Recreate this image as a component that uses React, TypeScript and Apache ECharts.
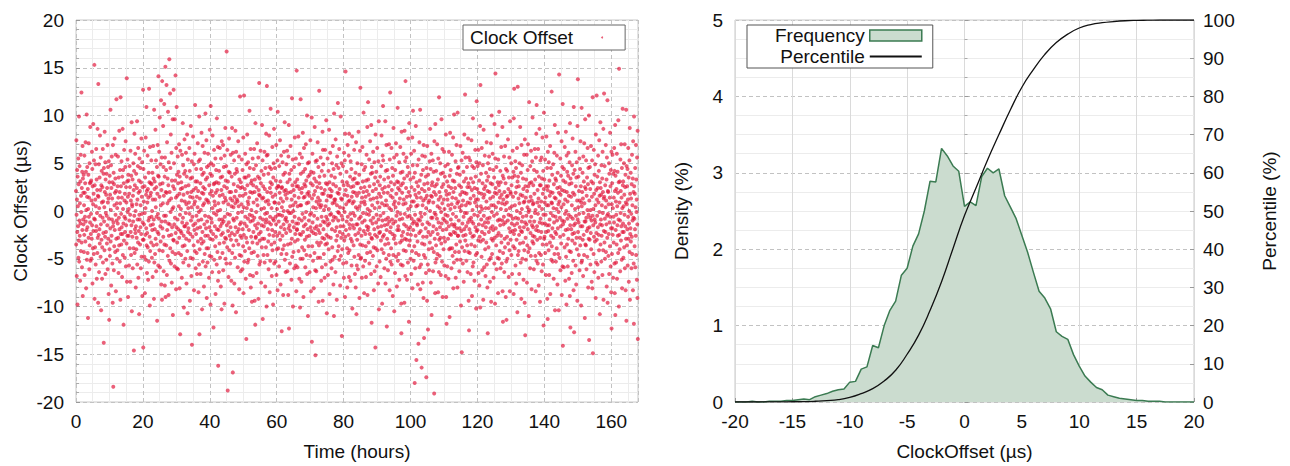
import React, { useEffect, useRef } from 'react';
import * as echarts from 'echarts';

// Clock offset samples (µs), recorded at a regular interval over the measurement span.
const SPAN_HOURS = 168;
const clockOffsetUs: number[] = [
2.1,-3.5,7.4,-0.4,-6.8,1.2,4.3,-2.2,-9.8,3.6,0.5,-1.6,5.5,-4.9,2.8,-3.1,9.9,-5.3,-1.0,4.7,
-2.6,0.8,-7.3,3.1,-1.3,5.9,-4.2,1.6,-0.1,12.4,-3.3,2.4,-5.9,4.1,-2.0,6.8,-8.9,3.4,-0.9,1.9,
-1.4,3.8,-4.3,0.6,-2.5,5.8,-6.7,1.9,-0.6,2.9,-3.2,7.2,-1.1,4.1,-8.1,0.1,-2.0,10.1,-5.1,1.5,
4.6,-1.7,-4.4,2.3,-11.2,0.2,3.8,-2.8,7.1,-0.6,1.4,-6.1,5.0,-3.6,2.9,-1.2,8.8,-5.2,3.0,-2.4,
-0.3,3.2,-5.0,1.1,-2.9,6.2,-1.5,4.4,-7.6,2.6,-3.9,0.7,9.1,-2.1,1.8,-4.5,5.3,-0.8,15.3,-9.2,
2.7,-0.9,-3.8,1.2,4.9,-5.6,0.5,-2.1,6.5,-1.6,3.3,-7.1,-0.2,2.2,-4.4,8.6,-2.8,1.6,-9.6,13.3,
1.5,-2.5,4.9,-6.4,0.3,-1.9,3.5,-3.4,7.9,-0.5,2.2,-4.8,5.6,-1.4,-10.4,2.7,-3.0,4.2,0.9,-7.1,
-3.8,2.5,-0.7,6.5,-5.4,1.0,-2.3,3.9,-13.8,4.5,-1.1,0.4,-4.1,8.3,2.0,-2.7,5.1,-6.6,3.3,-0.2,
-2.2,1.7,-5.1,3.9,-0.5,-3.4,2.4,-1.5,6.9,-6.1,0.9,4.6,-2.9,1.3,-8.7,5.2,-0.8,-11.4,3.0,-4.0,
3.7,-4.7,1.7,-1.8,10.6,-3.2,0.1,4.8,-7.8,2.4,-2.6,5.7,-0.9,1.3,-5.5,3.0,-9.6,6.9,-1.6,-18.4,
-1.2,4.0,-6.2,2.8,-3.7,0.6,7.6,-2.0,1.9,-4.3,3.4,-0.4,5.9,-8.4,2.1,-2.9,11.7,-1.0,0.8,-5.0,
0.3,-4.1,2.6,-1.3,5.7,-2.8,1.4,-6.5,3.5,-0.7,-3.6,8.4,-1.9,2.0,-5.3,4.3,0.8,-9.3,11.9,-2.4,
2.6,-0.3,-3.5,5.2,-1.7,1.4,-6.9,3.6,-2.4,8.6,-4.6,0.2,4.3,-1.3,-11.9,2.9,-3.1,6.4,-0.6,1.1,
-4.9,1.8,-2.2,4.6,-0.8,7.3,-5.8,2.5,-1.5,0.9,-3.4,13.9,-7.4,3.1,-2.6,5.4,-0.1,1.5,-9.0,3.8,
3.2,-2.6,0.2,-5.7,1.8,-1.0,4.7,-3.9,2.5,-0.4,-7.4,6.3,-2.2,1.1,-4.6,3.7,-1.5,9.3,-10.5,0.7,
0.5,-2.7,3.3,-6.0,1.6,-1.1,5.0,-3.9,2.2,-14.6,4.2,-0.5,8.1,-4.4,2.7,-1.9,6.0,-2.3,0.0,-8.0,
-1.6,3.9,-4.0,0.7,-2.8,2.4,9.4,-5.6,1.2,-0.9,4.7,-3.3,6.6,-7.0,1.9,-2.1,3.2,-10.8,-0.4,5.5,
-0.9,2.1,-3.5,4.5,-1.7,0.6,-6.0,3.0,-2.4,7.6,-4.8,1.5,-0.3,5.1,-8.9,2.5,-1.2,-3.0,12.7,-14.3,
4.4,-3.0,1.0,-1.4,6.3,-4.8,2.6,-0.2,-8.6,3.5,-2.5,0.3,7.7,-5.1,1.7,-1.8,10.9,-3.6,2.1,-6.5,
-2.3,0.9,5.8,-3.8,2.3,-7.2,1.4,-1.0,4.0,-5.3,12.8,-0.7,3.0,-2.7,-9.9,6.7,-4.2,1.6,-1.5,2.9,
1.9,-3.3,5.3,-0.6,2.8,-4.9,0.0,-2.0,4.0,-6.9,1.2,-1.4,6.8,-3.6,3.4,-0.9,-9.2,10.6,-5.4,2.3,
3.1,-1.9,-4.5,1.2,8.5,-2.9,0.4,5.3,-6.3,2.5,-0.6,-3.5,4.6,-11.5,1.8,-2.2,6.9,-0.3,3.7,-5.7,
14.1,-2.4,3.6,-0.8,6.2,-4.1,1.5,9.8,-5.9,2.8,-1.6,4.9,-3.2,0.6,11.6,-7.7,2.2,-1.1,5.6,-9.3,
13.6,-1.8,2.9,-4.2,0.8,8.9,-2.7,4.6,-6.3,1.6,-0.5,11.2,-3.5,3.6,-7.8,5.6,-1.1,15.1,-9.0,2.0,
-0.5,4.3,-3.6,13.2,1.9,-6.7,7.2,-2.0,0.8,3.4,-4.7,10.4,-1.3,2.7,-8.8,5.1,-2.6,1.1,15.9,-5.2,
2.0,-1.4,12.3,-3.9,4.5,-0.1,8.0,-5.5,1.3,-2.5,6.1,-7.5,3.2,-1.7,0.2,-4.3,9.6,-10.9,2.6,-3.0,
0.4,12.7,-3.1,5.0,-1.4,2.3,-5.8,9.6,-0.7,3.2,-4.5,14.2,-2.3,1.4,-8.2,6.6,-1.7,10.9,-6.0,3.8,
-3.3,1.6,-0.9,5.7,-6.1,2.9,-1.9,4.1,-4.4,0.5,7.0,-2.8,1.8,-8.1,3.6,-0.4,-12.9,6.3,-2.1,2.3,
0.2,-4.6,3.0,-2.3,1.1,-7.0,5.9,-1.2,2.4,-3.7,9.2,-0.7,4.8,-5.4,1.7,-2.6,-10.1,3.9,-1.6,7.5,
-3.6,1.0,-1.6,4.2,-5.0,2.6,-0.2,6.1,-2.9,0.7,-7.6,3.6,-1.3,8.0,-4.2,1.9,-10.7,5.4,-2.2,0.3,
-1.8,2.7,-5.7,0.9,-3.1,6.6,-0.3,4.2,-9.4,1.5,-2.4,3.4,-4.9,8.9,-1.0,2.0,-6.8,0.4,5.2,-14.0,
3.5,-0.6,-2.7,1.4,-5.0,7.8,-1.5,2.2,-3.6,4.9,-8.3,0.7,-2.0,6.0,-4.2,1.0,11.1,-1.3,3.1,-6.0,
2.4,-2.4,4.4,-0.5,-4.4,1.5,-6.6,3.1,-1.8,0.4,7.1,-3.2,2.1,-1.0,-8.5,5.2,-0.1,-5.6,9.9,-12.9,
-4.0,1.3,5.4,-1.7,2.9,-6.6,0.1,-2.9,4.4,-0.9,8.2,-3.4,1.9,-10.3,3.8,-2.2,6.8,-5.3,0.6,2.5,
1.8,-3.2,4.0,-7.9,0.8,-1.4,6.1,-4.5,2.3,-0.5,-2.6,10.2,-5.8,3.3,-1.8,1.2,7.4,-3.9,-9.1,4.6,
-1.1,3.5,-5.4,1.1,-2.6,6.0,-3.9,0.9,-0.6,4.8,-7.0,2.7,-1.7,-4.7,8.5,1.8,-2.9,3.9,-9.8,11.0,
-2.1,5.0,-0.8,-4.8,2.1,-1.2,3.7,-6.4,0.3,7.9,-3.0,1.6,-2.4,4.8,-12.2,2.8,-0.2,6.4,-5.1,1.0,
2.9,-1.6,0.6,-3.7,5.5,-8.7,1.9,-2.7,4.3,-0.4,3.0,-5.6,9.7,-1.9,2.2,-4.3,0.0,6.7,-7.3,-16.2,
0.8,-2.0,2.9,-6.4,4.2,-0.9,-3.4,1.6,6.6,-4.9,0.1,-1.6,3.5,-7.9,5.5,-2.5,2.2,-10.3,7.3,-1.3,
-0.9,3.6,-4.4,1.7,-2.3,6.9,-6.2,0.9,-1.1,4.6,-3.3,2.6,-9.7,5.8,-0.6,1.4,-2.8,8.7,-5.0,3.2,
1.1,-2.9,4.7,-5.5,16.7,-1.5,2.4,-3.8,6.4,-0.3,-18.8,3.1,-2.1,0.7,-6.9,4.1,-1.2,7.6,-4.1,2.0,
-2.6,4.0,-0.4,-5.5,1.3,-1.7,5.9,-3.0,2.0,-7.3,0.5,3.6,-2.3,8.7,-4.4,1.1,-9.9,-16.9,6.1,-0.8,
-3.6,0.4,2.8,-1.0,5.3,-7.6,1.5,-2.5,3.9,-4.9,0.8,8.4,-1.7,2.1,-10.6,6.2,-3.1,4.4,-0.7,1.2,
4.1,-2.2,1.0,-5.9,2.6,-0.2,7.3,-3.5,0.5,-1.9,5.7,-8.2,3.3,-4.6,1.6,-1.4,12.0,-2.6,2.4,-6.3,
3.0,-1.2,-4.7,0.7,-2.8,5.4,-0.1,2.5,-6.1,4.3,-1.9,1.6,-3.7,7.7,-8.6,0.4,-2.5,12.1,-5.3,3.5,
-1.3,2.3,-4.2,6.0,-0.6,1.8,-7.1,3.5,-2.8,-13.4,4.9,-1.6,0.3,-3.3,8.0,2.7,-5.4,1.0,-0.8,5.1,
0.7,-5.1,3.7,-2.0,1.4,-3.9,10.5,-0.4,4.5,-6.7,2.0,-1.1,6.5,-8.0,2.9,-2.7,0.1,-4.4,3.2,-9.5,
-0.5,1.9,-3.3,5.5,-1.0,-6.8,2.7,-2.2,0.9,4.4,-4.3,6.5,-0.7,2.0,-9.4,3.3,-1.5,-11.9,9.2,-2.8,
-2.7,4.8,-0.1,2.5,-6.5,1.2,-1.8,7.1,-3.4,0.6,-4.7,3.6,-1.3,5.6,-9.2,2.2,-2.4,1.7,13.4,-5.6,
3.4,-3.1,1.6,-0.7,-5.3,6.3,-2.2,2.9,-7.5,0.2,4.2,-1.5,-3.8,9.0,1.3,-2.9,5.3,-11.3,-0.9,2.6,
1.4,-4.6,3.8,-1.6,0.3,-2.9,6.2,-5.4,2.3,-0.3,-7.9,4.5,-1.2,1.0,-3.8,8.1,-0.9,-10.0,5.8,13.1,
-0.2,2.0,-4.6,5.9,-1.9,1.1,-3.2,3.9,-6.1,0.7,-1.2,7.9,-2.5,4.6,-8.5,2.4,-0.6,-5.2,3.0,10.7,
1.9,-1.4,4.4,-3.5,0.3,-6.8,2.8,-2.0,6.7,-4.1,1.5,-0.8,-9.8,3.5,-2.6,5.0,-1.0,8.6,-5.5,0.9,
-3.3,0.9,4.5,-2.2,1.7,-5.3,-0.6,3.2,-1.4,6.9,-6.7,2.4,-4.0,0.2,-2.6,5.3,-8.3,10.4,-0.4,2.6,
-3.9,2.6,-1.1,0.8,-5.8,4.7,-2.3,1.9,-0.4,7.4,-3.0,3.1,-7.7,1.3,-1.7,5.8,-4.5,2.4,-12.6,0.4,
2.5,-0.5,-2.6,5.1,-4.0,1.0,-8.8,3.8,-1.4,0.0,6.2,-3.6,2.1,-1.9,9.3,-5.1,4.0,-0.9,1.7,-6.4,
2.2,-0.7,-2.3,4.9,-4.5,1.3,-1.1,6.3,-6.3,3.0,0.0,-3.5,1.9,-8.8,5.7,-1.8,9.0,-12.3,-0.2,3.9,
-1.5,3.3,-5.5,0.5,-2.1,6.8,-3.4,2.0,-0.2,4.3,-7.2,1.2,-2.9,11.8,-4.8,2.7,-1.1,5.4,-10.0,0.6,
0.0,-4.3,2.2,-1.7,4.6,-6.0,1.6,-0.6,7.7,-3.2,3.0,-2.4,0.9,-5.7,5.5,-1.3,-8.4,2.6,14.7,-2.0,
-1.9,3.3,-5.9,0.5,-3.0,2.6,-1.3,7.8,-4.2,1.4,-0.8,4.9,-7.1,2.3,-2.4,6.0,-10.1,0.6,-5.0,11.7,
3.9,-2.5,0.6,-7.4,1.9,-1.0,5.6,-3.8,2.4,-0.3,-5.0,8.2,-2.2,4.1,-9.0,1.4,-1.6,6.6,-4.1,2.8,
-0.7,1.5,-3.0,4.4,-5.9,2.6,-1.4,7.0,-0.1,3.2,-4.6,0.8,-2.7,10.0,-6.6,1.8,-1.9,5.0,-11.0,3.6,
0.9,-3.7,2.0,-1.0,5.1,-2.6,1.6,-6.4,3.8,-0.4,-4.7,7.4,-1.7,2.9,-8.4,4.1,-0.2,-2.1,9.8,-13.7,
1.3,-3.7,6.0,-1.2,2.7,-5.2,0.4,-2.3,4.0,-8.1,1.7,-0.5,3.4,-4.4,8.8,-1.8,2.1,-6.2,-15.1,5.2,
-2.4,0.3,3.1,-6.3,1.0,-1.6,5.3,-3.3,2.5,-0.8,7.2,-4.9,1.4,-2.0,4.6,-9.5,0.7,-3.6,12.6,2.9,
3.6,-2.3,1.1,-4.9,0.4,-1.5,5.6,-3.3,2.4,-7.3,0.6,-0.6,4.2,-5.9,1.8,-2.8,8.3,-9.4,6.4,-1.1,
4.9,-1.9,1.8,-4.5,0.1,-2.9,3.7,-7.0,2.2,-1.2,6.4,-3.5,0.5,-5.6,2.9,-0.6,9.5,-2.5,1.1,-10.7,
-3.4,2.8,-0.9,5.5,-1.5,-6.7,1.6,-2.7,4.2,-4.0,0.2,8.5,-1.3,3.0,-8.7,2.3,-0.4,6.1,-5.3,1.5,
-2.8,1.6,-0.3,3.7,-6.0,2.1,-1.9,5.0,-3.8,0.8,-5.1,6.8,-1.0,2.8,-7.7,4.4,-0.6,-11.0,10.2,1.2,
0.9,-4.8,3.5,-2.1,1.2,-6.4,7.5,-0.7,2.6,-3.1,4.8,-1.7,-9.3,0.6,5.7,-2.6,1.9,-4.2,11.3,-0.1,
-1.0,4.5,-3.7,1.8,-0.2,6.5,-5.1,2.3,-2.2,0.4,-7.8,3.9,-1.6,9.9,-4.7,1.3,-2.8,5.0,-0.5,-13.1,
1.2,-4.0,3.1,-0.9,-2.4,4.7,-5.5,0.3,-1.6,2.7,-7.0,6.1,-3.1,1.7,-0.1,5.3,-9.0,8.1,-2.7,14.6,
2.2,-2.0,0.7,-5.4,4.1,-1.1,3.0,-3.9,-8.0,1.6,6.9,-0.6,2.7,-4.4,1.0,-2.5,5.8,-6.9,8.1,-1.4,
-4.1,1.1,-1.8,3.6,-0.3,-7.3,5.2,-2.9,2.5,-0.9,4.4,-5.7,1.5,-3.2,7.8,-10.2,0.8,-1.5,3.3,2.0,
-0.2,2.6,-3.6,1.0,-1.8,6.4,-4.8,3.4,-0.5,-6.6,1.9,-2.5,4.0,-8.0,0.4,7.2,-1.4,-10.8,2.9,-5.7,
1.6,-3.0,5.0,-1.4,0.2,-6.1,2.9,-2.3,8.3,-4.6,1.9,-0.8,3.8,-9.1,0.5,-1.9,6.3,-3.5,12.9,-5.0,
-0.6,2.4,-4.9,0.9,-2.6,4.9,-7.0,1.4,-1.2,6.7,-3.6,3.1,-0.2,-5.8,2.0,10.3,-2.1,4.3,-8.6,1.0,
2.5,-1.0,0.7,-5.2,4.6,-2.4,1.5,-3.7,-6.9,3.2,-0.3,5.9,-1.6,2.1,-4.4,8.8,-8.8,0.2,-2.0,11.4,
3.3,-1.7,-3.3,1.7,-0.4,5.4,-5.5,2.6,-2.4,0.0,7.3,-4.3,1.2,-1.0,3.9,-6.6,9.0,-2.8,-11.7,4.6,
-2.9,0.6,4.0,-1.3,2.1,-4.7,6.2,-0.7,1.3,-3.8,-8.3,2.8,-1.9,5.1,-6.3,0.3,-2.5,3.5,-14.3,8.0,
-3.9,2.3,-1.2,4.1,-0.4,-5.8,1.4,-2.7,6.6,-4.1,0.9,3.1,-1.7,-7.6,5.2,-0.9,9.4,-10.3,1.8,-2.3,
0.4,-5.3,2.7,-2.2,3.6,-0.5,-6.9,1.5,-3.1,4.7,-1.6,7.9,-4.0,0.8,-9.7,2.3,-1.0,5.8,-2.7,11.0,
5.3,-0.2,-4.4,1.9,-2.5,3.3,-6.0,0.6,-1.5,2.5,-3.5,9.4,-7.6,4.2,-0.9,1.1,-5.0,6.9,-2.0,-12.1,
0.6,-2.9,4.3,-1.4,1.9,-6.2,-0.7,3.5,-3.4,2.6,-4.6,7.0,-1.1,0.3,-8.3,5.4,-2.2,12.4,-5.3,1.6,
-1.7,3.0,-3.9,0.1,6.6,-5.6,2.2,-0.9,4.5,-2.4,1.4,-8.9,3.7,-1.3,-4.6,8.7,0.7,-2.9,5.6,-10.5,
2.8,-2.6,1.0,-6.5,4.3,-1.1,0.4,-3.4,7.1,-4.8,1.8,-0.5,5.9,-7.9,3.1,-2.0,-0.1,10.8,-5.2,2.4,
-1.6,3.0,-4.5,0.8,-2.0,5.1,-7.2,2.2,-0.9,1.3,-3.3,6.7,-0.3,4.0,-5.6,2.7,-9.7,-12.8,8.3,-2.6,
-3.1,1.9,-0.8,4.1,-5.7,2.9,-2.2,0.7,6.0,-4.1,1.2,-1.4,3.4,-9.6,8.4,-0.3,-2.9,5.2,-6.8,13.6,
0.8,-4.2,2.4,-1.6,5.6,-3.0,1.5,-7.2,3.7,-0.6,-2.4,4.6,-5.4,0.2,7.6,-1.9,2.0,-11.6,-3.6,9.2,
4.0,-0.5,-3.1,1.6,-1.7,3.3,-5.0,0.5,-2.5,6.0,-6.6,2.5,-0.8,1.0,-4.2,7.7,-8.1,4.8,-1.3,10.5,
-2.0,3.5,-5.2,1.0,-1.1,6.3,-3.7,2.2,-18.0,4.0,-0.4,-6.0,1.7,-2.6,8.9,-4.4,0.5,-15.6,3.0,-1.3,
1.4,-1.5,4.8,-3.2,0.6,-7.7,2.6,-0.9,-13.9,5.4,-4.6,1.9,-2.3,7.2,-5.9,3.2,-1.0,10.6,-8.2,-0.2,
-2.1,1.4,-5.6,3.8,-0.6,-16.4,2.3,-3.4,5.8,-1.4,0.6,-7.5,4.3,-2.7,1.1,-9.1,6.9,-4.6,-13.3,2.8,
-3.5,2.1,-0.3,5.7,-4.9,1.3,-1.8,3.6,-6.5,0.3,-17.4,4.5,-2.7,1.6,-9.4,6.8,-1.2,2.9,-5.6,-12.4,
3.8,-2.2,0.9,-4.0,2.3,-6.2,1.1,-1.4,5.2,-3.3,0.0,8.6,-2.5,4.4,-7.5,1.6,-0.7,6.0,-10.9,2.7,
1.5,-3.9,3.0,-0.7,-2.2,5.3,-6.3,0.9,-1.6,4.1,-4.3,2.0,-19.1,7.3,-0.2,-2.9,2.6,-8.6,9.1,-5.4,
-0.4,1.7,-3.6,4.2,-1.9,-5.0,2.8,-0.8,7.0,-4.5,0.5,-2.4,3.3,-8.5,5.5,-1.2,1.2,-6.4,11.9,-3.0,
2.0,-4.7,0.3,-1.7,5.0,-2.8,1.5,-6.7,3.9,-0.1,-3.4,9.6,-1.3,2.5,-5.3,0.8,6.5,-9.0,-2.0,4.0,
-0.8,2.8,-4.0,1.2,-2.8,6.2,-5.7,0.2,-1.0,3.6,-3.2,4.7,-0.4,-6.8,8.0,2.1,-9.0,-1.9,-11.8,1.7,
-1.2,3.1,-5.8,1.2,-0.5,4.9,-2.9,0.6,-7.1,2.6,-1.6,6.2,-4.0,1.8,-11.1,3.7,-2.4,8.2,-3.9,0.2,
4.3,-0.9,-2.5,2.4,-6.0,0.7,-1.4,5.9,-3.9,1.4,-4.7,3.2,-0.3,7.7,-8.1,2.0,-2.2,-5.4,10.1,-1.6,
3.1,-1.4,0.4,-4.3,2.4,-2.3,5.2,-7.0,1.3,-0.6,-3.5,6.9,-1.8,3.9,-5.1,0.8,-8.0,10.3,-2.6,4.5,
-2.6,1.0,4.6,-1.0,-4.3,2.7,-6.3,0.4,-1.8,3.8,-3.2,1.7,6.8,-5.1,0.0,-9.9,2.5,-2.1,5.3,-14.8,
0.6,-3.8,2.0,-1.3,6.1,-5.5,1.1,-2.6,4.1,-0.6,-7.4,3.1,-1.9,8.0,-4.2,1.9,-0.2,12.2,-3.1,5.6,
-2.5,0.6,3.4,-1.6,-5.2,1.8,-0.2,4.6,-3.6,2.5,-6.4,0.9,-1.2,7.6,-4.3,2.9,-9.4,5.6,-12.5,-0.9,
-1.9,2.5,-4.4,0.8,5.3,-2.3,1.3,-6.6,3.4,-0.7,-3.5,7.4,-1.1,2.2,-8.9,4.7,-2.7,0.1,-5.8,9.7,
3.0,-1.3,-5.4,1.6,-2.6,4.5,-0.4,-7.3,2.4,-3.7,0.9,6.4,-1.7,3.6,-4.6,1.2,-10.2,5.1,-2.1,11.5,
0.5,-4.4,2.3,-2.0,4.7,-0.5,1.2,-3.1,6.4,-6.5,1.9,-1.4,3.2,-7.8,5.0,-2.7,-0.1,8.9,-10.1,13.2,
-3.2,0.5,3.9,-0.9,1.8,-4.8,6.6,-2.2,0.2,-6.2,2.9,-1.5,4.8,-3.0,-9.3,1.4,8.5,-0.5,2.3,-5.9,
1.7,-2.4,5.8,-1.2,-4.0,2.6,-6.8,0.3,-1.7,4.0,-3.3,1.0,7.2,-5.6,3.2,-0.8,-8.0,2.1,-12.8,5.0,
-1.2,3.6,-3.8,0.3,-2.2,5.7,-5.1,2.0,-0.7,4.4,-7.4,1.3,-1.8,2.9,-4.9,7.1,-9.5,0.6,-2.9,10.0,
-0.1,-4.5,2.8,-1.6,6.0,-3.1,1.5,-2.0,4.3,-7.0,0.6,-0.5,3.5,-5.5,9.1,-2.8,1.9,-9.7,5.5,14.4,
2.4,-1.8,0.4,-3.6,4.6,-6.1,1.8,-0.3,-2.6,7.9,-4.9,3.0,-1.0,-8.6,5.4,0.9,-2.3,2.7,-5.0,10.4,
2.1,-0.9,-4.2,1.4,-1.5,4.2,-6.0,3.0,0.2,-2.6,6.7,-3.3,1.7,-5.5,0.8,-1.0,8.8,-8.4,3.7,-11.6,
-4.4,1.2,-1.4,3.4,-0.6,5.7,-6.4,2.0,-2.9,0.7,-3.8,6.8,-1.2,2.9,-9.0,4.4,0.1,-5.3,-11.4,1.5,
0.9,-2.7,4.2,-5.0,1.6,-1.0,7.5,-3.4,2.3,-0.4,-6.9,3.5,-1.8,5.6,-4.1,0.3,-8.4,9.4,-2.2,2.0,
-3.0,1.8,-0.5,5.0,-4.6,2.7,-1.3,0.5,-6.6,3.5,-2.1,6.3,-0.8,1.5,-3.7,4.1,-8.7,9.7,-2.4,12.8,
-1.5,3.7,-3.9,0.6,-2.0,5.2,-5.7,1.9,-0.7,4.5,-7.6,2.5,-3.0,0.0,6.6,-1.3,-10.6,3.1,13.0,-4.6,
3.6,-0.8,1.3,-4.2,2.6,-2.5,-6.6,0.8,5.0,-1.7,-3.4,8.8,-0.2,1.7,-5.4,4.0,-2.1,-9.2,6.9,-1.1,
0.2,-2.2,4.8,-5.0,1.6,-0.6,3.4,-3.3,2.3,-7.2,0.9,-1.7,5.9,-4.1,1.0,-9.6,7.5,-1.2,-13.0,2.6,
-2.8,1.4,-5.1,3.3,-0.5,-1.4,5.9,-7.5,2.1,-3.6,0.4,4.3,-1.9,7.0,-4.3,2.6,-0.1,-11.0,1.0,11.4,
0.1,-3.9,2.9,-1.1,-6.0,4.7,-2.3,1.5,-4.7,6.3,-0.6,3.0,-8.2,1.1,-1.5,5.2,-3.2,9.8,-2.6,0.7,
-1.7,2.7,-3.4,0.8,-6.1,4.3,-1.1,1.8,-2.7,6.5,-0.2,3.3,-4.7,0.1,-8.4,5.6,-2.0,8.1,-5.2,11.1,
4.1,-1.6,-3.0,0.9,2.2,-5.5,-0.3,6.5,-2.1,1.3,-7.8,3.6,-4.4,0.5,8.6,-1.2,2.7,-9.5,-2.8,5.3,
-0.8,2.7,-4.6,1.0,-2.2,5.6,-6.3,3.4,0.2,-1.3,7.7,-3.5,1.8,-5.6,4.2,-0.4,-12.0,2.3,10.3,-2.9,
3.3,-2.7,0.9,-1.3,5.4,-4.4,1.4,-0.4,-6.7,2.6,-2.2,7.8,-3.5,0.6,-1.5,4.5,-9.2,2.2,-11.3,6.2,
2.6,-2.1,0.6,-4.1,5.1,-1.5,-6.7,3.2,-0.9,1.6,-3.3,6.8,-8.7,2.0,-0.2,4.5,-2.6,-5.1,0.9,12.5,
-3.7,0.8,3.8,-1.8,1.9,-5.3,-0.5,4.9,-2.8,0.3,-7.1,2.8,-1.2,6.1,-4.5,1.4,9.0,-10.4,-2.2,3.4,
-0.6,1.3,-5.3,3.2,-2.4,0.2,-3.9,5.8,-1.0,2.4,-7.7,4.0,-1.8,8.2,-4.5,0.7,-0.1,-10.4,1.9,14.3,
1.0,-4.9,2.5,-0.7,-2.7,5.5,-6.2,1.7,-1.6,3.7,-3.4,0.4,7.3,-8.8,2.2,-1.0,4.6,-5.8,11.2,-14.1,
-1.4,3.2,-2.5,0.7,-5.9,4.4,-1.1,2.1,-3.8,6.7,-0.3,1.2,-7.3,3.0,-2.0,8.3,-4.8,0.0,-9.8,5.8,
2.0,-3.5,4.1,-0.8,1.0,-5.8,-1.9,3.7,-2.9,6.1,-0.4,1.6,-7.1,2.8,-4.2,5.1,-8.9,9.2,-1.5,-12.2,
3.4,-0.6,-4.3,1.5,-1.9,2.9,-6.5,0.6,4.8,-3.1,-2.4,7.6,-0.8,1.9,-5.2,3.9,-8.3,10.9,-1.5,-12.7,
-2.3,1.7,4.3,-3.4,0.2,-1.3,6.2,-5.7,2.6,-0.5,-7.7,3.5,-2.8,5.1,-4.0,1.1,-9.4,8.9,-0.9,13.8,
-2.2,0.4,3.6,-1.2,-4.6,2.1,-0.3,5.5,-6.2,1.1,-2.8,4.4,-3.6,7.3,-1.6,2.6,-9.9,0.9,-5.4,10.8,
0.5,-5.2,2.0,-1.6,4.0,-3.0,1.3,-6.8,5.7,-0.2,-2.5,3.1,-4.6,7.1,0.8,-1.1,-11.2,2.5,9.6,-3.5,
-1.1,2.3,-3.6,5.3,-0.7,-6.1,1.6,-2.1,3.5,-4.8,0.1,6.6,-1.8,2.8,-8.0,4.5,-0.4,-2.9,10.0,-13.5,
1.1,-1.7,-3.0,4.6,-0.7,2.3,-5.6,0.1,-2.3,6.8,-4.0,3.1,-1.0,-7.4,1.5,5.3,-8.1,-0.5,11.9,-14.9,
2.9,-1.5,0.2,-4.5,6.4,-2.7,1.8,-6.4,3.8,-0.9,-3.2,4.9,-1.2,0.6,-9.1,8.0,-5.4,2.2,-2.3,12.1,
-3.0,1.2,-0.5,3.6,-5.6,2.4,-1.7,5.8,-7.0,0.9,-2.5,4.2,-4.1,7.4,-0.1,1.6,-10.8,3.0,-1.4,9.3,
-3.5,2.4,-0.9,1.7,-5.3,4.8,-2.6,0.6,-1.5,3.4,-6.7,6.2,-0.2,2.0,-4.1,8.6,-9.3,1.3,-2.1,12.3,
1.5,-3.3,4.7,-0.8,-5.0,2.7,-2.2,0.4,6.9,-4.3,1.1,-1.4,3.3,-7.9,5.6,-0.5,-2.8,11.6,-9.6,2.1,
-0.3,2.0,-4.7,0.7,-2.4,5.0,-6.6,3.9,-1.2,1.4,-3.7,8.2,-0.6,2.6,-5.8,4.3,-1.8,-8.5,6.2,-12.3,
0.7,-4.5,2.9,-1.8,5.9,-2.5,0.3,-7.0,3.9,-0.6,-3.3,1.4,-1.2,6.6,-5.5,4.2,-8.6,2.1,9.0,-10.9,
3.7,-2.0,1.0,-5.4,-0.4,2.3,-3.5,6.0,-7.1,0.5,-1.5,4.1,-2.6,1.9,-4.4,9.5,-0.9,3.0,-10.0,14.9,
-2.5,0.9,-4.0,3.1,-1.0,-6.3,5.4,-0.2,2.1,-3.1,7.0,-1.6,1.4,-5.1,4.5,-8.1,0.3,-2.2,10.7,2.7,
-1.3,3.1,-4.9,0.5,-2.2,5.0,-3.8,1.7,-0.4,7.0,-6.0,2.5,-1.6,3.8,-8.3,0.9,-2.9,10.6,-11.5,4.7,
0.7,-3.6,2.6,-1.9,4.4,-5.7,1.2,-0.6,6.6,-2.9,3.5,-7.4,-1.3,0.0,5.3,-4.3,8.7,-9.3,1.8,-2.4,
-1.8,4.0,-3.2,1.3,-0.3,-6.0,2.8,-2.7,5.9,-4.5,0.6,-1.0,3.4,-8.3,7.3,-0.7,2.0,-5.5,-11.8,9.9,
2.6,-0.8,-3.7,1.8,-1.9,4.5,-5.9,0.4,-2.6,6.9,-4.6,3.3,-0.1,1.2,-7.2,5.6,-1.4,-9.1,8.4,-13.4,
];

// Histogram of clock offset (bin centres in µs) and density (%).
const offsetBinUs = [
-20,-19.5,-19,-18.5,-18,-17.5,-17,-16.5,-16,-15.5,-15,-14.5,-14,-13.5,-13,-12.5,-12,-11.5,-11,-10.5,
-10,-9.5,-9,-8.5,-8,-7.5,-7,-6.5,-6,-5.5,-5,-4.5,-4,-3.5,-3,-2.5,-2,-1.5,-1,-0.5,
0,0.5,1,1.5,2,2.5,3,3.5,4,4.5,5,5.5,6,6.5,7,7.5,8,8.5,9,9.5,
10,10.5,11,11.5,12,12.5,13,13.5,14,14.5,15,15.5,16,16.5,17,17.5,18,18.5,19,19.5,20,
];
const densityPct = [
0,0,0,0.01,0,0,0.01,0.01,0.01,0.02,0.02,0.03,0.04,0.03,0.07,0.09,0.11,0.14,0.16,0.17,
0.26,0.27,0.43,0.46,0.74,0.71,1.0,1.2,1.32,1.66,1.75,2.04,2.2,2.5,2.89,2.88,3.32,3.22,3.09,3.02,
2.56,2.62,2.57,2.95,3.06,3.0,3.05,2.7,2.55,2.4,2.18,1.96,1.7,1.45,1.36,1.22,0.92,0.86,0.82,0.62,
0.47,0.34,0.26,0.19,0.16,0.09,0.07,0.05,0.04,0.03,0.02,0.02,0.01,0.01,0.01,0,0,0,0,0,0,
];

// Cumulative percentile curve.
const percentileXUs = [
-20,-19,-18,-17,-16,-15,-14,-13,-12,-11,-10,-9,-8,-7,-6,-5,-4,-3,-2,-1,
0,1,2,3,4,5,6,7,8,9,10,11,12,13,14,15,16,17,18,19,20,
];
const percentilePct = [
0,0,0,0.02,0.04,0.06,0.1,0.2,0.35,0.6,1.2,2.2,3.5,5.5,8.3,12.5,17.5,24,31.5,40.2,
48.8,56,63.3,70,76.5,82.4,87,91,94.1,96.3,97.9,98.8,99.3,99.6,99.8,99.9,99.95,100,100,100,100,
];

const FONT = '"Liberation Sans", Arial, Helvetica, sans-serif';
const TXT = { color: '#111', fontSize: 19, fontFamily: FONT };

export default function App() {
  const ref = useRef<HTMLDivElement>(null);

  useEffect(() => {
    document.body.style.margin = '0';
    const chart = echarts.init(ref.current!, null, { renderer: 'svg' });
    const step = SPAN_HOURS / clockOffsetUs.length;
    const scatterData = clockOffsetUs.map((v, i) => [i * step, v]);
    const histData = offsetBinUs.map((x, i) => [x, densityPct[i]]);
    const pctData = percentileXUs.map((x, i) => [x, percentilePct[i]]);

    const majorSplit = { show: true, lineStyle: { color: '#c2c2c2', type: [4, 3], width: 1 } };
    const minorSplit = { show: true, lineStyle: { color: '#ececec', width: 1 } };
    const tick = { show: true, inside: true, length: 4, lineStyle: { color: '#999' } };
    const label = { ...TXT, margin: 10 };

    const option: any = {
      animation: false,
      backgroundColor: '#fff',
      grid: [
        { left: 76, right: 652, top: 20, bottom: 63, show: true, borderColor: '#c8c8c8', borderWidth: 1 },
        { left: 735, right: 96, top: 20, bottom: 63, show: true, borderColor: '#c8c8c8', borderWidth: 1 },
      ],
      legend: [
        {
          data: [{ name: 'Clock Offset', icon: 'circle' }],
          left: 463, top: 25, align: 'right', orient: 'horizontal',
          itemWidth: 48, itemHeight: 2,
          padding: [3, 22, 3, 7],
          borderColor: '#666', borderWidth: 1, backgroundColor: '#fff',
          textStyle: TXT,
        },
        {
          data: [
            { name: 'Frequency', icon: 'rect', itemStyle: { color: '#cbdccf', borderColor: '#3b7b52', borderWidth: 1.5 } },
            { name: 'Percentile', itemStyle: { color: 'rgba(0,0,0,0)', borderColor: 'rgba(0,0,0,0)', borderWidth: 0, opacity: 0 } },
          ],
          left: 747, top: 25, align: 'right', orient: 'vertical',
          itemWidth: 52, itemHeight: 11, itemGap: 2,
          padding: [1, 10, 2, 28],
          borderColor: '#555', borderWidth: 1, backgroundColor: '#fff',
          textStyle: TXT,
        },
      ],
      xAxis: [
        {
          gridIndex: 0, type: 'value', min: 0, max: 168, interval: 20,
          name: 'Time (hours)', nameLocation: 'middle', nameGap: 40, nameTextStyle: TXT,
          axisLabel: { ...label, showMaxLabel: false },
          axisLine: { show: false }, axisTick: tick,
          minorTick: { show: true, splitNumber: 4, length: 3, lineStyle: { color: '#aaa' } },
          splitLine: majorSplit, minorSplitLine: minorSplit,
        },
        {
          gridIndex: 1, type: 'value', min: -20, max: 20, interval: 5,
          name: 'ClockOffset (µs)', nameLocation: 'middle', nameGap: 40, nameTextStyle: TXT,
          axisLabel: label,
          axisLine: { show: false }, axisTick: tick,
          splitLine: { show: true, lineStyle: { color: '#dadada', width: 1 } },
        },
      ],
      yAxis: [
        {
          gridIndex: 0, type: 'value', min: -20, max: 20, interval: 5,
          name: 'Clock Offset (µs)', nameLocation: 'middle', nameGap: 46, nameTextStyle: TXT,
          axisLabel: { ...label, margin: 12 },
          axisLine: { show: false }, axisTick: tick,
          minorTick: { show: true, splitNumber: 5, length: 3, lineStyle: { color: '#aaa' } },
          splitLine: majorSplit, minorSplitLine: minorSplit,
        },
        {
          gridIndex: 1, type: 'value', min: 0, max: 5, interval: 1,
          name: 'Density (%)', nameLocation: 'middle', nameGap: 44, nameTextStyle: TXT,
          axisLabel: { ...label, margin: 12 },
          axisLine: { show: false }, axisTick: tick,
          minorTick: { show: true, splitNumber: 4, length: 3, lineStyle: { color: '#aaa' } },
          splitLine: majorSplit, minorSplitLine: minorSplit,
        },
        {
          gridIndex: 1, type: 'value', position: 'right', min: 0, max: 100, interval: 10,
          name: 'Percentile (%)', nameLocation: 'middle', nameGap: 66, nameTextStyle: TXT,
          axisLabel: { ...label, margin: 9 },
          axisLine: { show: false }, axisTick: tick,
          splitLine: { show: false },
        },
      ],
      series: [
        {
          name: 'Clock Offset', type: 'scatter', xAxisIndex: 0, yAxisIndex: 0,
          symbol: 'circle', symbolSize: 4,
          itemStyle: { color: 'rgba(226,20,58,0.85)' },
          data: scatterData,
        },
        {
          name: 'Frequency', type: 'line', xAxisIndex: 1, yAxisIndex: 1,
          symbol: 'none', showSymbol: false,
          lineStyle: { color: '#3b7b52', width: 1.5 },
          itemStyle: { color: '#3b7b52' },
          areaStyle: { color: '#cbdccf', opacity: 1 },
          data: histData, z: 2,
        },
        {
          name: 'Percentile', type: 'line', xAxisIndex: 1, yAxisIndex: 2,
          symbol: 'none', showSymbol: false, smooth: true,
          lineStyle: { color: '#111', width: 1.3 },
          itemStyle: { color: '#111' },
          data: pctData, z: 3,
        },
      ],
    };
    chart.setOption(option);
    return () => chart.dispose();
  }, []);

  return (
    <div
      ref={ref}
      style={{ width: 1290, height: 466, position: 'absolute', left: 0, top: 0 }}
    />
  );
}
